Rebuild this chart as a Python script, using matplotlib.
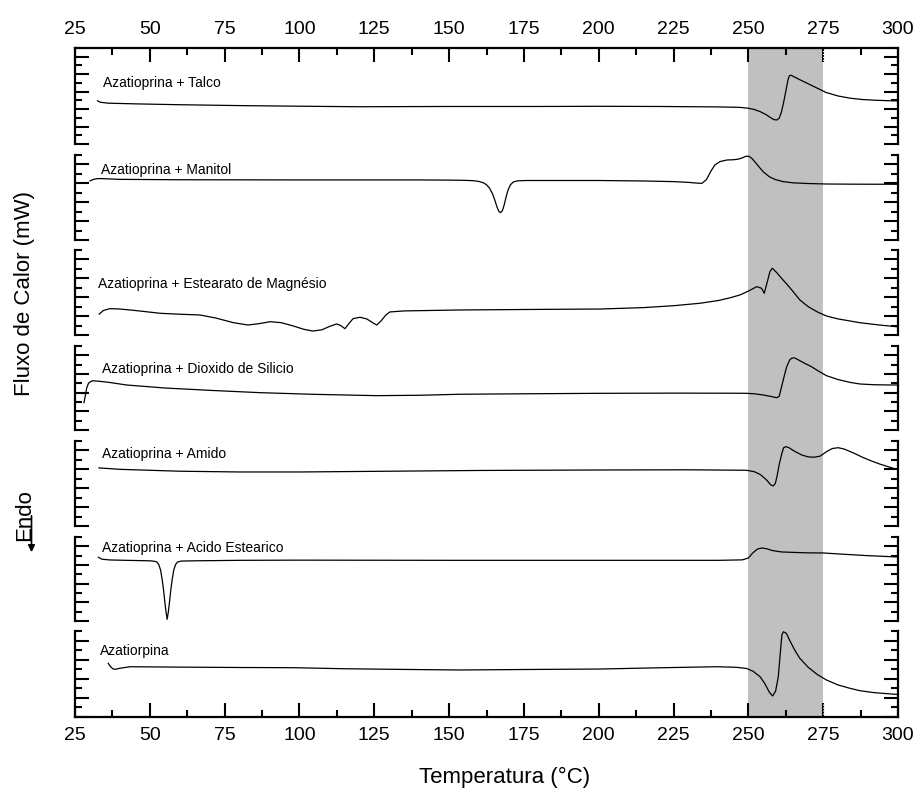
import numpy as np
import matplotlib
matplotlib.use("Agg")
import matplotlib.pyplot as plt
from matplotlib.ticker import MultipleLocator

plt.rcParams['font.family'] = ['Liberation Sans', 'DejaVu Sans']

# curvas DSC (unidades arbitrarias dentro de cada painel)
x_talco = [32.5, 33.5, 36, 45, 60, 80, 100, 120, 150, 180, 200, 220, 240, 247, 250, 252, 254, 256,
           257.5, 258.5, 259.5, 260.3, 261, 261.8, 262.6, 263.2, 263.7, 264.3, 265, 267, 270, 273,
           276, 280, 284, 288, 292, 296, 300]
y_talco = [4.95, 4.78, 4.68, 4.6, 4.5, 4.4, 4.33, 4.27, 4.3, 4.3, 4.32, 4.3, 4.25, 4.2, 4.1, 3.95,
           3.7, 3.35, 3.0, 2.8, 2.75, 2.95, 3.6, 4.8, 6.2, 7.3, 7.82, 7.88, 7.75, 7.4, 6.9, 6.4,
           5.9, 5.5, 5.25, 5.1, 5.02, 4.97, 4.93]

x_manitol = [30, 31, 32.5, 34, 40, 60, 100, 140, 150, 155, 158, 160, 161.5, 162.5, 163.5, 164.5,
             165.3, 166, 166.6, 167.2, 167.8, 168.4, 169, 169.7, 170.5, 171.5, 173, 176, 185, 200,
             215, 225, 230, 233, 234.5, 236, 237.5, 238.8, 240.5, 242.8, 245, 246.5, 248, 249.3,
             250.3, 251.3, 252.5, 254.9, 257, 259, 261.6, 265, 270, 276, 285, 300]
y_manitol = [6.25, 6.4, 6.5, 6.5, 6.42, 6.38, 6.36, 6.36, 6.34, 6.32, 6.28, 6.2, 6.05, 5.85, 5.5,
             4.9, 4.2, 3.5, 3.05, 2.89, 3.1, 3.7, 4.5, 5.3, 5.85, 6.15, 6.27, 6.3, 6.3, 6.3, 6.25,
             6.18, 6.1, 6.02, 6.0, 6.4, 7.3, 7.94, 8.3, 8.47, 8.5, 8.55, 8.7, 8.88, 8.85, 8.6, 8.15,
             7.24, 6.7, 6.4, 6.18, 6.05, 5.98, 5.93, 5.91, 5.9]

x_estearato = [33.1, 34.5, 36.7, 40, 45, 53.4, 60, 66.8, 72, 78, 82.8, 86.5, 90.2, 94, 98, 101.5,
               104.5, 107.5, 110, 112.4, 113.8, 115.2, 116.5, 117.9, 120.2, 122.5, 124.5, 125.8,
               127.3, 128.8, 130.2, 135, 153.6, 175, 200.4, 215, 225, 233.8, 240, 244, 247.2, 250,
               252.8, 254.4, 255.3, 256.3, 257.2, 258, 259.5, 261.1, 262.8, 264.5, 267.2, 270, 273,
               276.1, 280, 287.3, 294, 299.5]
y_estearato = [2.22, 2.6, 2.79, 2.75, 2.6, 2.3, 2.2, 2.12, 1.8, 1.3, 1.06, 1.2, 1.41, 1.3, 0.95,
               0.6, 0.42, 0.55, 0.9, 1.17, 1.0, 0.67, 1.2, 1.73, 1.88, 1.7, 1.3, 1.06, 1.5, 2.1,
               2.44, 2.55, 2.65, 2.7, 2.75, 2.9, 3.1, 3.36, 3.65, 3.95, 4.24, 4.65, 5.12, 4.95,
               4.42, 5.6, 6.7, 7.07, 6.6, 6.0, 5.4, 4.77, 3.71, 3.0, 2.45, 2.01, 1.7, 1.3, 1.05, 0.88]

x_silicio = [28.0, 28.4, 28.9, 29.5, 30.3, 31.1, 33, 36, 42.3, 55, 70, 86.8, 105, 125.8, 140, 153.6,
             175, 200.4, 225, 245, 249.4, 252, 255, 257.5, 259.4, 260.3, 261.1, 262, 262.8, 263.8,
             264.6, 265.5, 266.5, 268.5, 271, 273.5, 276.1, 280, 284, 287.3, 292, 296, 299.5]
y_silicio = [2.93, 3.6, 4.5, 5.0, 5.2, 5.28, 5.22, 5.12, 4.82, 4.5, 4.25, 4.0, 3.82, 3.68, 3.72,
             3.83, 3.88, 3.93, 3.95, 3.94, 3.93, 3.88, 3.75, 3.6, 3.46, 3.6, 4.64, 5.8, 6.78, 7.5,
             7.72, 7.72, 7.55, 7.2, 6.8, 6.3, 5.82, 5.4, 5.1, 4.93, 4.85, 4.83, 4.82]

x_amido = [33, 40, 60, 80, 100, 130, 160, 200, 230, 249.4, 252, 254, 256, 257.5, 258.3, 259, 259.6,
           260.3, 261.2, 261.8, 262.5, 263.5, 265.5, 268, 270, 272, 274, 276.1, 278, 280, 282, 285,
           288, 291, 294, 297, 299.5]
y_amido = [6.15, 6.0, 5.8, 5.72, 5.72, 5.8, 5.88, 5.93, 5.95, 5.9, 5.75, 5.45, 4.9, 4.35, 4.24, 4.5,
           5.3, 6.5, 7.7, 8.3, 8.4, 8.3, 7.9, 7.5, 7.32, 7.28, 7.4, 7.87, 8.2, 8.29, 8.15, 7.75,
           7.3, 6.9, 6.55, 6.25, 6.01]

x_acido = [32.8, 34, 36.7, 42, 50, 51.5, 52.3, 53, 53.6, 54.1, 54.6, 55.0, 55.4, 55.8, 56.2, 56.6,
           57.0, 57.5, 58.0, 58.6, 59.3, 60.5, 65, 80, 100, 150, 200, 240, 248, 250, 251.5, 253,
           254.5, 256, 258, 261, 265, 270, 275, 282, 290, 300]
y_acido = [6.83, 6.62, 6.54, 6.5, 6.45, 6.4, 6.33, 6.05, 5.45, 4.5, 3.3, 2.1, 1.0, 0.18, 1.0, 2.1,
           3.3, 4.5, 5.45, 6.05, 6.33, 6.42, 6.45, 6.5, 6.52, 6.5, 6.5, 6.5, 6.55, 6.75, 7.3, 7.7,
           7.82, 7.75, 7.55, 7.4, 7.35, 7.3, 7.29, 7.15, 7.0, 6.86]

x_aza = [36.1, 36.8, 37.6, 38.4, 40, 43.4, 60, 80, 97.9, 115, 131.3, 153.6, 175, 200.4, 220, 239.4,
         246, 249.4, 251.5, 253.9, 255.5, 257, 258.1, 259.1, 260, 260.7, 261.2, 261.7, 262.7, 264,
         265.5, 267.2, 270, 273, 276.1, 280, 284, 287.3, 292, 296, 299.5]
y_aza = [5.62, 5.3, 5.05, 4.99, 5.1, 5.26, 5.22, 5.18, 5.16, 5.05, 4.99, 4.92, 4.97, 5.02, 5.15,
         5.26, 5.2, 5.08, 4.8, 4.22, 3.5, 2.6, 2.2, 2.7, 4.22, 6.8, 8.6, 8.92, 8.76, 7.9, 7.0,
         6.14, 5.2, 4.45, 3.87, 3.35, 3.0, 2.75, 2.55, 2.45, 2.37]

nomes = ['Azatioprina + Talco', 'Azatioprina + Manitol', 'Azatioprina + Estearato de Magnésio',
         'Azatioprina + Dioxido de Silicio', 'Azatioprina + Amido', 'Azatioprina + Acido Estearico',
         'Azatiorpina']
curvas = [(x_talco, y_talco), (x_manitol, y_manitol), (x_estearato, y_estearato),
          (x_silicio, y_silicio), (x_amido, y_amido), (x_acido, y_acido), (x_aza, y_aza)]
rotulo_x = [34.2, 33.7, 32.8, 33.9, 33.9, 33.9, 33.4]
rotulo_y = [6.95, 7.42, 5.37, 6.5, 7.63, 7.79, 6.94]
topo_y = [11, 9, 9, 9, 9, 9, 9]

# limites dos paineis em pixels (topo, base)
W, H = 919, 791
paineis = [(48, 144), (155, 240), (250, 335), (346, 430), (441, 526), (537, 621), (631, 717)]
x0, x1 = 75, 898

fig = plt.figure(figsize=(W / 100, H / 100), dpi=100)

# eixo de fundo: faixa cinza e eixo x superior/inferior
fundo = fig.add_axes([x0 / W, 1 - 717 / H, (x1 - x0) / W, (717 - 48) / H])
fundo.set_xlim(25, 300)
fundo.set_ylim(0, 1)
fundo.axvspan(250, 275, color='#c0c0c0', lw=0)
fundo.axvline(275, color='white', lw=0.8, ls=':')
fundo.spines['left'].set_visible(False)
fundo.spines['right'].set_visible(False)
for s in ['top', 'bottom']:
    fundo.spines[s].set_linewidth(1.6)
fundo.set_yticks([])
fundo.xaxis.set_major_locator(MultipleLocator(25))
fundo.xaxis.set_minor_locator(MultipleLocator(12.5))
fundo.tick_params(axis='x', which='both', direction='in', top=True, bottom=True,
                  labeltop=True, labelbottom=True, labelsize=14, width=1.5, pad=7)
fundo.tick_params(axis='x', which='major', length=10)
fundo.tick_params(axis='x', which='minor', length=5)

for i, (t, b) in enumerate(paineis):
    ax = fig.add_axes([x0 / W, 1 - b / H, (x1 - x0) / W, (b - t) / H])
    ax.patch.set_visible(False)
    xs, ys = curvas[i]
    ax.plot(xs, ys, color='black', lw=0.9)
    ax.text(rotulo_x[i], rotulo_y[i], nomes[i], fontsize=10, ha='left', va='center')
    ax.set_xlim(25, 300)
    ax.set_ylim(0, topo_y[i])
    ax.set_xticks([])
    ax.spines['top'].set_visible(False)
    ax.spines['bottom'].set_visible(False)
    ax.spines['left'].set_linewidth(1.6)
    ax.spines['right'].set_linewidth(1.6)
    ax.yaxis.set_major_locator(MultipleLocator(2))
    ax.yaxis.set_minor_locator(MultipleLocator(1))
    ax.tick_params(axis='y', which='both', direction='in', left=True, right=True,
                   labelleft=False, labelright=False, width=1.5)
    ax.tick_params(axis='y', which='major', length=10)
    ax.tick_params(axis='y', which='minor', length=5)

fig.text(505 / W, 1 - 777 / H, 'Temperatura (°C)', fontsize=16, ha='center', va='center')
fig.text(25 / W, 1 - 293.5 / H, 'Fluxo de Calor (mW)', fontsize=16, rotation=90,
         ha='center', va='center')
fig.text(25 / W, 1 - 515 / H, 'Endo', fontsize=16, rotation=90, ha='center', va='center')
fig.add_artist(matplotlib.patches.FancyArrowPatch(
    (31.5 / W, 1 - 513 / H), (31.5 / W, 1 - 555 / H), transform=fig.transFigure,
    arrowstyle='-|>,head_length=4,head_width=2', color='black', lw=1.2, mutation_scale=1))

fig.savefig('out.png', dpi=100)
